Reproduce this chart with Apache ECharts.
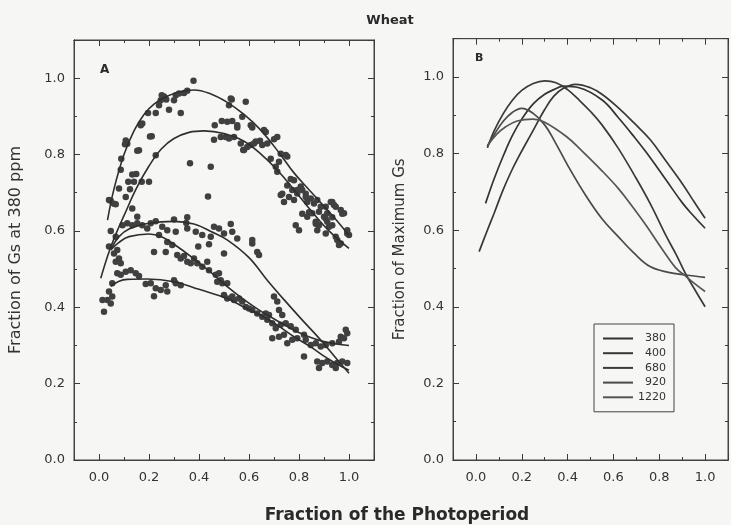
<!DOCTYPE html>
<html>
<head>
<meta charset="utf-8">
<script src="https://cdn.jsdelivr.net/npm/echarts@6/dist/echarts.min.js"></script>
<style>
  html, body { margin: 0; padding: 0; background: #f6f6f4; }
  #chart { width: 731px; height: 525px; }
</style>
</head>
<body>
<div id="chart"></div>
<script>
// ---- axis ranges and tick steps ----
const xRange = [-0.1, 1.1];
const yRange = [0, 1.1];
const majorStep = 0.2;
const minorStep = 0.1;

// ---- CO2 levels (ppm) ----
const levels = ['380', '400', '680', '920', '1220'];

// ---- panel A: observed Gs (fraction of Gs at 380 ppm) ----
const obs380 = [[0.040,0.681],[0.060,0.671],[0.080,0.711],[0.087,0.760],[0.089,0.789],[0.107,0.837],[0.113,0.828],[0.104,0.827],[0.160,0.811],[0.167,0.877],[0.204,0.847],[0.196,0.909],[0.227,0.909],[0.247,0.942],[0.260,0.952],[0.280,0.917],[0.300,0.942],[0.307,0.955],[0.320,0.960],[0.340,0.961],[0.353,0.967],[0.327,0.909],[0.378,0.993],[0.251,0.955],[0.269,0.944],[0.240,0.929],[0.173,0.881],[0.531,0.944],[0.520,0.929],[0.527,0.947],[0.587,0.938],[0.573,0.899],[0.607,0.877],[0.613,0.871],[0.660,0.864],[0.667,0.859],[0.700,0.840],[0.713,0.846],[0.727,0.802],[0.753,0.795],[0.747,0.799],[0.767,0.736],[0.780,0.733],[0.793,0.707],[0.807,0.716],[0.813,0.707],[0.827,0.697],[0.833,0.676],[0.847,0.685],[0.860,0.672],[0.873,0.681],[0.887,0.663],[0.907,0.663],[0.927,0.676],[0.933,0.676],[0.940,0.668],[0.947,0.663],[0.967,0.655],[0.973,0.645],[0.980,0.646],[0.993,0.602],[1.000,0.589]];
const obs400 = [[0.133,0.748],[0.140,0.729],[0.117,0.729],[0.124,0.709],[0.107,0.689],[0.149,0.749],[0.171,0.729],[0.200,0.729],[0.133,0.659],[0.153,0.637],[0.047,0.679],[0.067,0.670],[0.153,0.810],[0.211,0.848],[0.227,0.798],[0.364,0.777],[0.447,0.768],[0.436,0.690],[0.463,0.877],[0.491,0.888],[0.513,0.886],[0.533,0.888],[0.553,0.871],[0.553,0.877],[0.460,0.839],[0.487,0.846],[0.507,0.846],[0.540,0.846],[0.520,0.842],[0.567,0.829],[0.577,0.812],[0.580,0.812],[0.593,0.820],[0.607,0.825],[0.627,0.834],[0.620,0.829],[0.644,0.836],[0.673,0.829],[0.653,0.825],[0.687,0.789],[0.707,0.768],[0.720,0.781],[0.713,0.755],[0.727,0.694],[0.733,0.697],[0.753,0.719],[0.773,0.707],[0.793,0.698],[0.780,0.681],[0.760,0.689],[0.740,0.676],[0.787,0.615],[0.800,0.602],[0.827,0.689],[0.840,0.649],[0.853,0.646],[0.880,0.650],[0.900,0.637],[0.913,0.646],[0.913,0.624],[0.933,0.615],[0.933,0.636],[0.953,0.576],[0.967,0.567],[0.907,0.593],[0.873,0.602],[0.867,0.624],[0.813,0.645],[0.833,0.637],[0.907,0.632],[0.867,0.619],[0.920,0.611],[0.880,0.615],[0.947,0.585],[0.993,0.593],[0.960,0.563]];
const obs680 = [[0.047,0.600],[0.094,0.615],[0.113,0.620],[0.133,0.615],[0.153,0.620],[0.173,0.615],[0.193,0.606],[0.207,0.620],[0.227,0.625],[0.253,0.611],[0.273,0.602],[0.300,0.630],[0.307,0.598],[0.349,0.621],[0.353,0.636],[0.353,0.606],[0.387,0.598],[0.413,0.589],[0.460,0.611],[0.480,0.606],[0.447,0.585],[0.440,0.565],[0.397,0.559],[0.500,0.593],[0.527,0.618],[0.533,0.598],[0.553,0.580],[0.613,0.576],[0.613,0.567],[0.633,0.545],[0.640,0.537],[0.500,0.541],[0.700,0.428],[0.713,0.415],[0.720,0.393],[0.820,0.271],[0.873,0.258],[0.893,0.254],[0.913,0.258],[0.933,0.249],[0.953,0.254],[0.880,0.241],[0.947,0.241]];
const obs920 = [[0.067,0.585],[0.040,0.559],[0.060,0.541],[0.073,0.550],[0.080,0.528],[0.067,0.519],[0.087,0.515],[0.220,0.545],[0.267,0.545],[0.240,0.589],[0.273,0.571],[0.293,0.563],[0.313,0.537],[0.327,0.528],[0.340,0.534],[0.353,0.519],[0.367,0.515],[0.380,0.528],[0.393,0.515],[0.413,0.506],[0.433,0.519],[0.440,0.497],[0.467,0.485],[0.487,0.471],[0.513,0.463],[0.540,0.419],[0.560,0.423],[0.573,0.415],[0.587,0.401],[0.600,0.397],[0.613,0.393],[0.633,0.384],[0.653,0.375],[0.667,0.384],[0.680,0.380],[0.673,0.367],[0.733,0.380],[0.693,0.358],[0.707,0.345],[0.727,0.354],[0.747,0.358],[0.767,0.350],[0.787,0.341],[0.820,0.328],[0.967,0.323],[0.980,0.319],[0.993,0.332],[0.987,0.341]];
const obs1220 = [[0.073,0.489],[0.087,0.485],[0.107,0.493],[0.127,0.497],[0.147,0.489],[0.160,0.482],[0.053,0.463],[0.040,0.441],[0.014,0.419],[0.034,0.419],[0.053,0.428],[0.047,0.410],[0.020,0.388],[0.187,0.461],[0.207,0.463],[0.227,0.450],[0.247,0.445],[0.220,0.429],[0.267,0.458],[0.300,0.471],[0.307,0.463],[0.327,0.458],[0.273,0.441],[0.493,0.463],[0.500,0.432],[0.513,0.423],[0.480,0.489],[0.473,0.467],[0.533,0.428],[0.693,0.319],[0.720,0.323],[0.740,0.328],[0.753,0.306],[0.773,0.315],[0.793,0.319],[0.827,0.315],[0.847,0.301],[0.867,0.306],[0.887,0.297],[0.907,0.301],[0.933,0.306],[0.960,0.310],[0.973,0.258],[0.993,0.254]];

// ---- panel A: fitted curves ----
const fitA380 = [[0.034,0.628],[0.06,0.71],[0.1,0.80],[0.14,0.862],[0.18,0.905],[0.22,0.932],[0.27,0.952],[0.32,0.964],[0.38,0.969],[0.45,0.958],[0.51,0.938],[0.58,0.905],[0.647,0.864],[0.72,0.805],[0.78,0.752],[0.84,0.708],[0.89,0.672],[0.95,0.628],[1.0,0.588]];
const fitA400 = [[0.007,0.476],[0.04,0.545],[0.073,0.60],[0.1,0.64],[0.15,0.712],[0.2,0.77],[0.25,0.815],[0.3,0.842],[0.36,0.858],[0.42,0.862],[0.5,0.855],[0.58,0.835],[0.65,0.80],[0.714,0.759],[0.78,0.708],[0.847,0.654],[0.92,0.60],[1.0,0.554]];
const fitA680 = [[0.05,0.555],[0.08,0.585],[0.12,0.605],[0.2,0.62],[0.3,0.625],[0.38,0.618],[0.45,0.598],[0.514,0.576],[0.6,0.53],[0.673,0.471],[0.74,0.42],[0.807,0.371],[0.887,0.314],[0.95,0.265],[1.0,0.227]];
const fitA920 = [[0.047,0.55],[0.08,0.57],[0.12,0.585],[0.2,0.592],[0.25,0.585],[0.3,0.565],[0.38,0.527],[0.45,0.49],[0.513,0.454],[0.58,0.42],[0.647,0.39],[0.72,0.362],[0.78,0.34],[0.85,0.32],[0.9,0.31],[0.95,0.304],[1.0,0.30]];
const fitA1220 = [[0.047,0.455],[0.08,0.468],[0.113,0.473],[0.193,0.474],[0.3,0.467],[0.4,0.447],[0.513,0.423],[0.58,0.40],[0.647,0.379],[0.72,0.35],[0.78,0.323],[0.85,0.295],[0.9,0.272],[0.95,0.252],[1.0,0.235]];

// ---- panel B: fraction of maximum Gs ----
const relB380 = [[0.042,0.67],[0.08,0.735],[0.12,0.795],[0.16,0.848],[0.2,0.89],[0.25,0.93],[0.3,0.955],[0.34,0.967],[0.382,0.976],[0.45,0.972],[0.551,0.94],[0.62,0.895],[0.69,0.844],[0.76,0.79],[0.83,0.731],[0.9,0.672],[0.95,0.637],[1.0,0.605]];
const relB400 = [[0.014,0.544],[0.05,0.60],[0.08,0.645],[0.115,0.70],[0.15,0.748],[0.185,0.79],[0.242,0.852],[0.3,0.915],[0.34,0.95],[0.38,0.97],[0.435,0.981],[0.5,0.972],[0.55,0.955],[0.617,0.922],[0.69,0.88],[0.761,0.836],[0.83,0.78],[0.9,0.722],[0.95,0.676],[1.0,0.631]];
const relB680 = [[0.05,0.815],[0.08,0.86],[0.12,0.905],[0.16,0.94],[0.2,0.965],[0.25,0.983],[0.3,0.99],[0.35,0.985],[0.4,0.967],[0.45,0.94],[0.5,0.91],[0.55,0.875],[0.62,0.815],[0.69,0.745],[0.76,0.67],[0.83,0.585],[0.875,0.535],[0.916,0.485],[0.96,0.44],[1.0,0.40]];
const relB920 = [[0.05,0.82],[0.08,0.85],[0.12,0.885],[0.16,0.908],[0.2,0.918],[0.25,0.905],[0.3,0.875],[0.34,0.836],[0.4,0.77],[0.48,0.69],[0.55,0.63],[0.62,0.584],[0.69,0.54],[0.76,0.505],[0.84,0.49],[0.915,0.483],[1.0,0.477]];
const relB1220 = [[0.05,0.82],[0.09,0.85],[0.13,0.87],[0.18,0.885],[0.249,0.89],[0.3,0.882],[0.396,0.844],[0.459,0.809],[0.55,0.755],[0.62,0.71],[0.67,0.672],[0.74,0.615],[0.81,0.553],[0.87,0.503],[0.915,0.48],[0.96,0.458],[1.0,0.44]];

const ink = '#3a3a3a';
const font = 'DejaVu Sans';
const frameLine = { show: true, onZero: false, lineStyle: { color: '#444', width: 1 } };

function fmt(v) {
  // only label the 0.2 steps inside 0..1
  const k = Math.round(v * 10);
  return (k >= 0 && k <= 10 && k % 2 === 0) ? (k / 10).toFixed(1) : '';
}

// Each side of a frame carries two overlaid axes: one drawing long ticks every 0.2
// (nice-number ticks), one drawing short ticks every 0.1.
function sideAxes(kind, grid, range, posA, posB, labelled, extra) {
  const out = [];
  [posA, posB].forEach((pos, side) => {
    const major = Object.assign({ gridIndex: grid, type: 'value', min: range[0], max: range[1],
      splitNumber: 6, position: pos, axisLine: frameLine, splitLine: { show: false },
      axisTick: { show: true, inside: true, length: 6, lineStyle: { color: ink, width: 1 } },
      axisLabel: { show: false } }, {});
    if (labelled && side === 0) Object.assign(major, extra);
    const minor = { gridIndex: grid, type: 'value', min: range[0], max: range[1],
      interval: minorStep, position: pos, axisLine: frameLine, splitLine: { show: false },
      axisTick: { show: true, inside: true, length: 3, lineStyle: { color: ink, width: 1 } },
      axisLabel: { show: false } };
    out.push(major, minor);
  });
  return out;
}

const labelStyle = (margin) => ({ show: true, formatter: fmt, margin: margin,
  color: '#333', fontFamily: font, fontSize: 13, showMinLabel: true, showMaxLabel: true });

function xAxesFor(grid) {
  return sideAxes('x', grid, xRange, 'bottom', 'top', true, { axisLabel: labelStyle(11) });
}
function yAxesFor(grid, name, gap, nameSize) {
  return sideAxes('y', grid, yRange, 'left', 'right', true, {
    axisLabel: labelStyle(9),
    name: name, nameLocation: 'middle', nameGap: gap,
    nameTextStyle: { color: '#333', fontFamily: font, fontSize: nameSize } });
}

const obsSets = [obs380, obs400, obs680, obs920, obs1220];
const fitSets = [fitA380, fitA400, fitA680, fitA920, fitA1220];
const relSets = [relB380, relB400, relB680, relB920, relB1220];
const relColors = ['#333', '#383838', '#3a3a3a', '#4a4a4a', '#555'];

const series = [];
obsSets.forEach((d, i) => series.push({
  name: 'obs ' + levels[i], type: 'scatter', xAxisIndex: 0, yAxisIndex: 0,
  data: d, symbolSize: 6.5, itemStyle: { color: '#404040', opacity: 1 }, z: 2
}));
fitSets.forEach((d, i) => series.push({
  name: 'fit ' + levels[i], type: 'line', xAxisIndex: 0, yAxisIndex: 0,
  data: d, smooth: 0.4, symbol: 'none', lineStyle: { color: '#2e2e2e', width: 1.6 }, z: 3
}));
relSets.forEach((d, i) => series.push({
  name: levels[i], type: 'line', xAxisIndex: 4, yAxisIndex: 4,
  data: d, smooth: 0.4, symbol: 'none', color: relColors[i],
  lineStyle: { color: relColors[i], width: 1.7 }, z: 3
}));

const chart = echarts.init(document.getElementById('chart'), null, { renderer: 'canvas' });
chart.setOption({
  backgroundColor: '#f6f6f4',
  animation: false,
  title: [
    { text: 'Wheat', left: 385, top: 9, textAlign: 'center',
      textStyle: { fontFamily: font, fontSize: 13, fontWeight: 'bold', color: '#2a2a2a' } },
    { text: 'A', left: 95, top: 59,
      textStyle: { fontFamily: font, fontSize: 12, fontWeight: 'bold', color: '#2a2a2a' } },
    { text: 'B', left: 470, top: 48,
      textStyle: { fontFamily: font, fontSize: 11, fontWeight: 'bold', color: '#2a2a2a' } },
    { text: 'Fraction of the Photoperiod', left: 392, top: 502, textAlign: 'center',
      textStyle: { fontFamily: font, fontSize: 17, fontWeight: 'bold', color: '#2a2a2a' } }
  ],
  grid: [
    { left: 74, top: 40, width: 300, height: 420, show: true, borderColor: '#444', borderWidth: 1 },
    { left: 453, top: 38.7, width: 285, height: 421.3, show: true, borderColor: '#444', borderWidth: 1 }
  ],
  xAxis: xAxesFor(0).concat(xAxesFor(1)),
  yAxis: yAxesFor(0, 'Fraction of Gs at 380 ppm', 50, 16).concat(yAxesFor(1, 'Fraction of Maximum Gs', 45, 15)),
  legend: {
    data: levels, orient: 'vertical', left: 594, top: 324,
    itemWidth: 30, itemHeight: 12, itemGap: 3.7,
    padding: [9, 8, 9, 8], borderColor: '#444', borderWidth: 1,
    itemStyle: { opacity: 0 },
    formatter: n => '{r|' + n + '}',
    textStyle: { fontFamily: font, fontSize: 11, color: '#333',
      rich: { r: { width: 28, align: 'right', fontFamily: font, fontSize: 11, lineHeight: 12 } } }
  },
  series: series
});
</script>
</body>
</html>
